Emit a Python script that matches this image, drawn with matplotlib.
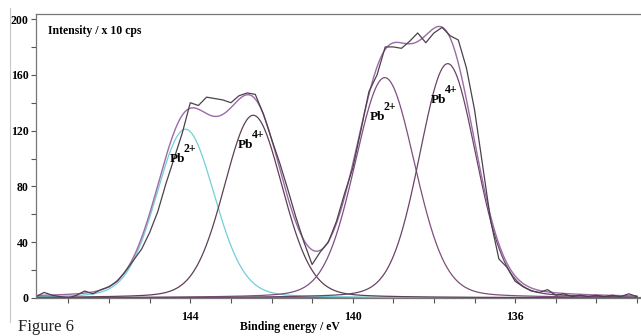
import numpy as np
import matplotlib
matplotlib.use('Agg')
import matplotlib.pyplot as plt
from matplotlib.lines import Line2D

plt.rcParams['font.family'] = ['Liberation Serif', 'DejaVu Serif']

# raw spectrum (every 0.2 eV)
be_raw = np.round(np.arange(147.8, 132.99, -0.2), 1)
counts_raw = [1, 4, 2, 1, 0, 2, 5, 3, 6, 8,
              12, 19, 27, 35, 47, 62, 82, 100, 118, 140,
              138, 144, 143, 142, 140, 145, 147, 146, 132, 114,
              97, 78, 58, 40, 24, 33, 40, 55, 75, 93,
              120, 148, 160, 180, 180, 179, 184, 190, 183, 190,
              194, 188, 185, 165, 135, 95, 55, 28, 22, 12,
              8, 5, 4, 6, 2, 3, 1, 2, 1, 2,
              1, 2, 1, 3, 1]

# fitted components: centre (eV), height, FWHM (eV)
peak_ion = ['2+', '4+', '2+', '4+']
peak_centre = [144.12, 142.45, 139.21, 137.66]
peak_height = [121, 131, 158, 168]
peak_fwhm = [1.7, 1.7, 1.75, 1.65]
peak_color = ['#6fcfd8', '#5e3f55', '#7e4f7e', '#6a4468']
label_pos = [(144.32, 100), (142.64, 110), (139.4, 130), (137.88, 142)]
lor_frac = 0.15


def pv(x, c, h, w):
    g = np.exp(-4 * np.log(2) * ((x - c) / w) ** 2)
    l = 1 / (1 + 4 * ((x - c) / w) ** 2)
    return h * ((1 - lor_frac) * g + lor_frac * l)


x = np.linspace(147.8, 133.0, 800)

fig = plt.figure(figsize=(6.41, 3.36), dpi=100)
ax = fig.add_axes([36 / 641, 38 / 336, 1 - 36 / 641, 284 / 336])

env = np.zeros_like(x)
for c, h, w, col in zip(peak_centre, peak_height, peak_fwhm, peak_color):
    y = pv(x, c, h, w)
    env += y
    ax.plot(x, y, color=col, lw=0.9)

ax.plot(x, env, color='#9c6aa6', lw=1.0)
ax.plot(be_raw, counts_raw, color='#4d404d', lw=0.9)
ax.axhline(0, color='#8c5c98', lw=1.6, zorder=1)

for ion, (lx, ly) in zip(peak_ion, label_pos):
    ax.text(lx, ly, 'Pb', ha='center', va='center', fontsize=9.5, fontweight='bold')
    ax.annotate(ion, (lx, ly), xytext=(4.3, 7), textcoords='offset points',
                ha='left', va='center', fontsize=8.5, fontweight='bold')

ax.set_xlim(147.8, 132.9)
ax.set_ylim(0, 203.6)
ax.set_xticks([144, 140, 136])
ax.set_xticks(np.arange(133, 148), minor=True)
ax.set_yticks([0, 40, 80, 120, 160, 200])
ax.set_yticks(np.arange(20, 200, 40), minor=True)
ax.tick_params(which='both', direction='out', length=3.5, width=0.8, color='#555555',
               labelsize=8.5, pad=2)
ax.tick_params(axis='x', which='major', pad=6)
for lab in ax.get_xticklabels() + ax.get_yticklabels():
    lab.set_fontweight('bold')
ax.spines['right'].set_visible(False)
for s in ['top', 'left', 'bottom']:
    ax.spines[s].set_color('#777777')
    ax.spines[s].set_linewidth(0.9)

ax.text(0.02, 0.94, 'Intensity / x 10 cps', transform=ax.transAxes,
        fontsize=8.5, fontweight='bold', va='center')
ax.set_xlabel('Binding energy / eV', fontsize=8.5, fontweight='bold', labelpad=0)
ax.xaxis.set_label_coords(0.42, -0.08)

fig.text(18 / 641, 0.004, 'Figure 6', fontsize=12, va='bottom', ha='left', color='#222222')
fig.add_artist(Line2D([10 / 641, 10 / 641], [14 / 336, 328 / 336],
                      color='#c8c8c8', lw=0.8, transform=fig.transFigure))

fig.savefig('out.png', dpi=100)
